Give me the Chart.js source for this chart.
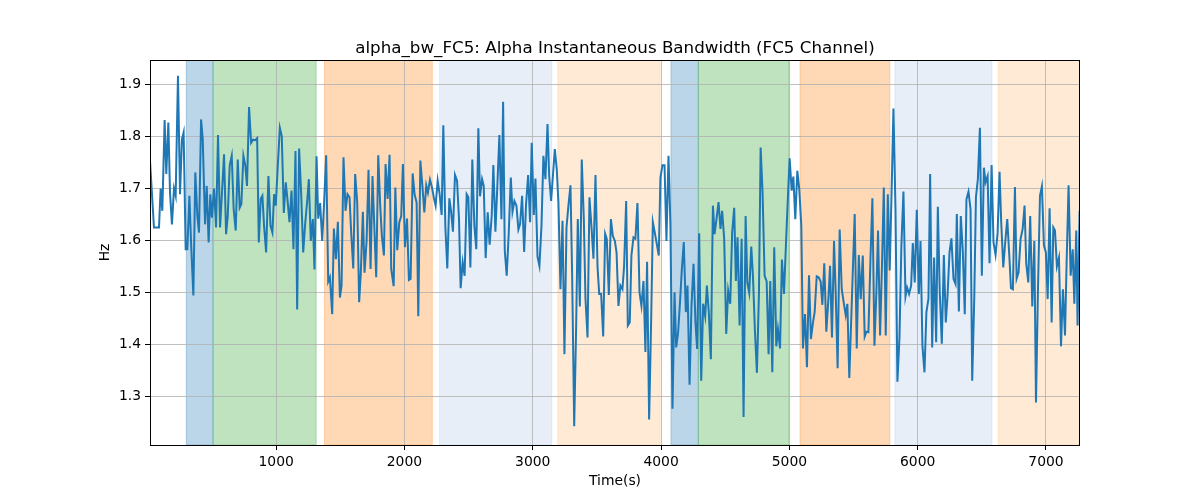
<!DOCTYPE html>
<html>
<head>
<meta charset="utf-8">
<script src="https://cdn.jsdelivr.net/npm/chart.js@4.4.1/dist/chart.umd.min.js"></script>
<style>
  html, body { margin: 0; padding: 0; background: #fff; }
  #wrap { width: 1200px; height: 500px; }
</style>
</head>
<body>
<div id="wrap"><canvas id="bwChart" width="1200" height="500"></canvas></div>
<script>
// Data (turning points of the trace)
const times = [
  17, 48, 87, 100, 113, 131, 144, 160, 173, 188, 204, 217, 235, 251, 266, 279, 295, 308, 324, 337,
  355, 370, 386, 399, 415, 428, 446, 459, 474, 487, 500, 516, 532, 547, 563, 578, 594, 610, 623, 638,
  654, 669, 685, 701, 716, 729, 745, 760, 773, 789, 805, 820, 838, 852, 865, 880, 893, 906, 922,
  940, 956, 971, 984, 997, 1013, 1029, 1044, 1060, 1075, 1088, 1104, 1120, 1135, 1151, 1164, 1179, 1195, 1211, 1226,
  1242, 1255, 1270, 1286, 1299, 1315, 1328, 1343, 1359, 1374, 1390, 1406, 1419, 1437, 1450, 1466, 1481, 1497, 1510, 1525,
  1541, 1556, 1572, 1585, 1601, 1616, 1632, 1647, 1660, 1676, 1689, 1705, 1720, 1736, 1751, 1764, 1780, 1796, 1811, 1824, 1840,
  1853, 1869, 1884, 1897, 1916, 1929, 1944, 1960, 1975, 1988, 2004, 2020, 2035, 2048, 2064, 2079, 2095, 2108, 2124, 2139,
  2155, 2170, 2183, 2199, 2215, 2230, 2243, 2259, 2274, 2290, 2303, 2319, 2334, 2350, 2363, 2378, 2394, 2410, 2425, 2438,
  2454, 2469, 2485, 2498, 2514, 2529, 2545, 2560, 2576, 2589, 2605, 2618, 2633, 2649, 2664, 2680, 2693, 2709, 2724, 2740,
  2756, 2769, 2782, 2797, 2813, 2829, 2842, 2857, 2873, 2888, 2901, 2917, 2933, 2948, 2964, 2979, 2992, 3008, 3021, 3037,
  3052, 3068, 3083, 3099, 3115, 3128, 3143, 3159, 3172, 3187, 3200, 3216, 3232, 3247, 3263, 3278, 3294, 3307, 3323, 3338,
  3351, 3367, 3382, 3398, 3411, 3427, 3442, 3458, 3473, 3489, 3505, 3518, 3533, 3549, 3564, 3577, 3593, 3609, 3624, 3640,
  3653, 3668, 3683, 3699, 3712, 3728, 3741, 3756, 3769, 3785, 3800, 3816, 3832, 3847, 3863, 3878, 3891, 3907, 3923, 3936,
  3951, 3967, 3982, 3995, 4011, 4027, 4042, 4058, 4073, 4089, 4105, 4118, 4133, 4149, 4162, 4177, 4193, 4206, 4222, 4237,
  4253, 4268, 4281, 4297, 4313, 4328, 4344, 4357, 4372, 4388, 4404, 4417, 4432, 4448, 4463, 4476, 4492, 4508, 4523, 4539,
  4554, 4570, 4583, 4596, 4612, 4628, 4643, 4659, 4672, 4687, 4703, 4716, 4732, 4747, 4763, 4776, 4791, 4807, 4823, 4838,
  4851, 4867, 4882, 4898, 4911, 4927, 4942, 4958, 4973, 4989, 5002, 5018, 5031, 5046, 5062, 5077, 5093, 5106, 5122, 5137,
  5153, 5168, 5184, 5197, 5213, 5228, 5244, 5257, 5272, 5288, 5304, 5317, 5332, 5348, 5361, 5376, 5392, 5408, 5423, 5439,
  5452, 5467, 5509, 5525, 5541, 5556, 5572, 5587, 5600, 5616, 5632, 5647, 5663, 5678, 5691, 5707, 5723, 5736, 5751, 5767,
  5782, 5798, 5811, 5827, 5842, 5858, 5873, 5889, 5905, 5918, 5933, 5949, 5962, 5977, 5993, 6009, 6022, 6037, 6053, 6068,
  6084, 6097, 6113, 6128, 6144, 6157, 6172, 6188, 6204, 6219, 6232, 6248, 6263, 6279, 6295, 6305, 6321, 6336, 6352, 6367,
  6380, 6396, 6412, 6425, 6441, 6454, 6469, 6485, 6500, 6516, 6529, 6545, 6560, 6576, 6591, 6607, 6623, 6638, 6651, 6667,
  6682, 6698, 6714, 6727, 6742, 6758, 6771, 6786, 6802, 6818, 6833, 6846, 6862, 6877, 6893, 6909, 6922, 6937, 6953, 6968,
  6984, 6999, 7013, 7028, 7044, 7057, 7070, 7085, 7101, 7117, 7132, 7148, 7161, 7176, 7192, 7208, 7221, 7236, 7246, 7262
];
const alphaBw = [
  1.753, 1.625, 1.625, 1.700, 1.657, 1.832, 1.728, 1.827, 1.692, 1.631, 1.700, 1.686, 1.917, 1.689, 1.795, 1.808, 1.583, 1.583, 1.686, 1.596,
  1.494, 1.731, 1.647, 1.615, 1.833, 1.795, 1.631, 1.705, 1.596, 1.689, 1.644, 1.700, 1.625, 1.803, 1.625, 1.692, 1.766, 1.612, 1.647, 1.744,
  1.763, 1.660, 1.619, 1.756, 1.663, 1.670, 1.763, 1.744, 1.705, 1.857, 1.788, 1.794, 1.793, 1.797, 1.596, 1.680, 1.686, 1.628, 1.577,
  1.724, 1.628, 1.615, 1.689, 1.667, 1.744, 1.817, 1.801, 1.653, 1.712, 1.680, 1.635, 1.696, 1.583, 1.772, 1.467, 1.777, 1.692, 1.577, 1.631,
  1.676, 1.718, 1.599, 1.641, 1.544, 1.762, 1.642, 1.672, 1.599, 1.673, 1.764, 1.521, 1.529, 1.458, 1.623, 1.564, 1.636, 1.490, 1.513, 1.760,
  1.657, 1.689, 1.683, 1.615, 1.546, 1.728, 1.673, 1.481, 1.538, 1.655, 1.538, 1.599, 1.736, 1.545, 1.724, 1.635, 1.529, 1.764, 1.667, 1.609, 1.571,
  1.747, 1.680, 1.765, 1.545, 1.512, 1.702, 1.581, 1.635, 1.647, 1.747, 1.587, 1.642, 1.524, 1.526, 1.729, 1.689, 1.673, 1.454, 1.754, 1.708,
  1.654, 1.706, 1.692, 1.717, 1.702, 1.681, 1.667, 1.715, 1.689, 1.649, 1.822, 1.625, 1.546, 1.681, 1.657, 1.617, 1.726, 1.715, 1.642, 1.508,
  1.558, 1.532, 1.689, 1.683, 1.548, 1.756, 1.628, 1.583, 1.816, 1.685, 1.718, 1.705, 1.566, 1.654, 1.592, 1.647, 1.745, 1.617, 1.705, 1.803,
  1.641, 1.867, 1.580, 1.532, 1.615, 1.721, 1.655, 1.676, 1.667, 1.621, 1.631, 1.686, 1.578, 1.670, 1.726, 1.635, 1.788, 1.649, 1.719, 1.569,
  1.551, 1.628, 1.763, 1.718, 1.824, 1.724, 1.676, 1.731, 1.776, 1.737, 1.673, 1.506, 1.638, 1.381, 1.625, 1.667, 1.706, 1.535, 1.242, 1.431,
  1.641, 1.473, 1.756, 1.641, 1.487, 1.413, 1.683, 1.625, 1.565, 1.726, 1.548, 1.497, 1.497, 1.415, 1.613, 1.603, 1.495, 1.641, 1.609, 1.599,
  1.577, 1.474, 1.513, 1.506, 1.551, 1.676, 1.436, 1.442, 1.571, 1.606, 1.603, 1.672, 1.500, 1.474, 1.522, 1.385, 1.559, 1.255, 1.449, 1.635,
  1.615, 1.593, 1.571, 1.721, 1.745, 1.745, 1.599, 1.763, 1.628, 1.276, 1.500, 1.394, 1.423, 1.487, 1.545, 1.597, 1.462, 1.513, 1.322, 1.473,
  1.555, 1.442, 1.391, 1.614, 1.330, 1.478, 1.454, 1.513, 1.462, 1.371, 1.667, 1.612, 1.641, 1.674, 1.622, 1.657, 1.603, 1.420, 1.503, 1.478,
  1.615, 1.663, 1.522, 1.606, 1.436, 1.603, 1.260, 1.647, 1.519, 1.499, 1.588, 1.532, 1.423, 1.345, 1.500, 1.779, 1.692, 1.532, 1.521, 1.381,
  1.522, 1.346, 1.587, 1.396, 1.429, 1.392, 1.563, 1.497, 1.590, 1.686, 1.758, 1.696, 1.723, 1.641, 1.734, 1.699, 1.628, 1.392, 1.458, 1.356,
  1.533, 1.410, 1.442, 1.462, 1.531, 1.529, 1.521, 1.476, 1.556, 1.424, 1.487, 1.551, 1.413, 1.599, 1.500, 1.354, 1.621, 1.506, 1.481, 1.456,
  1.478, 1.335, 1.651, 1.392, 1.572, 1.487, 1.571, 1.415, 1.424, 1.423, 1.564, 1.681, 1.397, 1.500, 1.619, 1.417, 1.564, 1.702, 1.417, 1.689,
  1.542, 1.708, 1.854, 1.660, 1.328, 1.413, 1.590, 1.694, 1.492, 1.509, 1.497, 1.513, 1.595, 1.519, 1.659, 1.497, 1.599, 1.397, 1.346, 1.462,
  1.488, 1.728, 1.394, 1.567, 1.404, 1.665, 1.500, 1.401, 1.572, 1.442, 1.490, 1.577, 1.604, 1.526, 1.516, 1.651, 1.463, 1.647, 1.577, 1.458,
  1.679, 1.694, 1.660, 1.330, 1.490, 1.683, 1.718, 1.817, 1.532, 1.740, 1.712, 1.724, 1.556, 1.745, 1.596, 1.572, 1.615, 1.732, 1.635, 1.548,
  1.596, 1.641, 1.571, 1.508, 1.506, 1.703, 1.526, 1.538, 1.603, 1.622, 1.667, 1.555, 1.519, 1.647, 1.473, 1.599, 1.288, 1.500, 1.686, 1.704,
  1.590, 1.577, 1.487, 1.662, 1.442, 1.625, 1.619, 1.550, 1.567, 1.396, 1.506, 1.417, 1.561, 1.706, 1.532, 1.583, 1.478, 1.619, 1.436, 1.657
];

// Shaded phases (start / end in seconds)
const bandStart = [300, 508, 1377, 2274, 3195, 4077, 4290, 5083, 5822, 6628];
const bandEnd   = [508, 1312, 2217, 3148, 3993, 4290, 4997, 5783, 6579, 7300];
const bandColor = [
  "rgba(31,119,180,0.3)", "rgba(44,160,44,0.3)", "rgba(255,127,14,0.3)", "rgba(174,199,232,0.3)", "rgba(255,187,120,0.3)",
  "rgba(31,119,180,0.3)", "rgba(44,160,44,0.3)", "rgba(255,127,14,0.3)", "rgba(174,199,232,0.3)", "rgba(255,187,120,0.3)"
];

const xTicks = [1000, 2000, 3000, 4000, 5000, 6000, 7000];
const yTicks = [1.3, 1.4, 1.5, 1.6, 1.7, 1.8, 1.9];

const FONT = "'DejaVu Sans', sans-serif";

// Bands under the grid
const bandsPlugin = {
    id: "bands",
    beforeDraw(chart) {
        const ctx = chart.ctx;
        const area = chart.chartArea;
        const x = chart.scales.x;
        ctx.save();
        ctx.beginPath();
        ctx.rect(area.left, area.top, area.right - area.left, area.bottom - area.top);
        ctx.clip();
        bandStart.forEach((s, i) => {
            const x0 = x.getPixelForValue(s);
            const x1 = x.getPixelForValue(bandEnd[i]);
            ctx.fillStyle = bandColor[i];
            ctx.fillRect(x0, area.top, x1 - x0, area.bottom - area.top);
            ctx.strokeStyle = bandColor[i];
            ctx.lineWidth = 1;
            ctx.strokeRect(x0, area.top, x1 - x0, area.bottom - area.top);
        });
        ctx.restore();
    }
};

// Frame and title
const framePlugin = {
    id: "frame",
    afterDatasetsDraw(chart) {
        const ctx = chart.ctx;
        const a = chart.chartArea;
        ctx.save();
        ctx.strokeStyle = "#000";
        ctx.lineWidth = 1;
        ctx.strokeRect(a.left + 0.5, a.top + 0.5, a.right - a.left - 1, a.bottom - a.top);
        ctx.fillStyle = "#000";
        ctx.font = "16.7px " + FONT;
        ctx.textAlign = "center";
        ctx.textBaseline = "alphabetic";
        ctx.fillText("alpha_bw_FC5: Alpha Instantaneous Bandwidth (FC5 Channel)", (a.left + a.right) / 2, 53);
        ctx.restore();
    }
};

const points = times.map((t, i) => ({ x: t, y: alphaBw[i] }));

new Chart(document.getElementById("bwChart"), {
    type: "line",
    data: {
        datasets: [{
            data: points,
            borderColor: "#1f77b4",
            borderWidth: 2,
            pointRadius: 0,
            tension: 0,
            fill: false
        }]
    },
    options: {
        responsive: false,
        animation: false,
        events: [],
        layout: { padding: { top: 60, right: 120, left: 0, bottom: 0 } },
        plugins: {
            legend: { display: false },
            title: { display: false },
            tooltip: { enabled: false }
        },
        scales: {
            x: {
                type: "linear",
                min: 17,
                max: 7265,
                afterBuildTicks: (s) => { s.ticks = xTicks.map(v => ({ value: v })); },
                afterFit: (s) => { s.height = 55; },
                ticks: {
                    color: "#000",
                    padding: 4,
                    maxRotation: 0,
                    font: { family: FONT, size: 13.9 },
                    callback: (v) => String(v)
                },
                grid: { color: "#b0b0b0", lineWidth: 0.8, tickColor: "#000", tickWidth: 1, tickLength: 5 },
                border: { display: false },
                title: {
                    display: true,
                    text: "Time(s)",
                    color: "#000",
                    font: { family: FONT, size: 13.9 },
                    padding: { top: 0, bottom: 10 }
                }
            },
            y: {
                min: 1.206,
                max: 1.9475,
                afterBuildTicks: (s) => { s.ticks = yTicks.map(v => ({ value: v })); },
                afterFit: (s) => { s.width = 150; },
                ticks: {
                    color: "#000",
                    padding: 4,
                    font: { family: FONT, size: 13.9 },
                    callback: (v) => Number(v).toFixed(1)
                },
                grid: { color: "#b0b0b0", lineWidth: 0.8, tickColor: "#000", tickWidth: 1, tickLength: 5 },
                border: { display: false },
                title: {
                    display: true,
                    text: "Hz",
                    color: "#000",
                    font: { family: FONT, size: 13.9 },
                    padding: { top: 97, bottom: 0 }
                }
            }
        }
    },
    plugins: [bandsPlugin, framePlugin]
});
</script>
</body>
</html>
